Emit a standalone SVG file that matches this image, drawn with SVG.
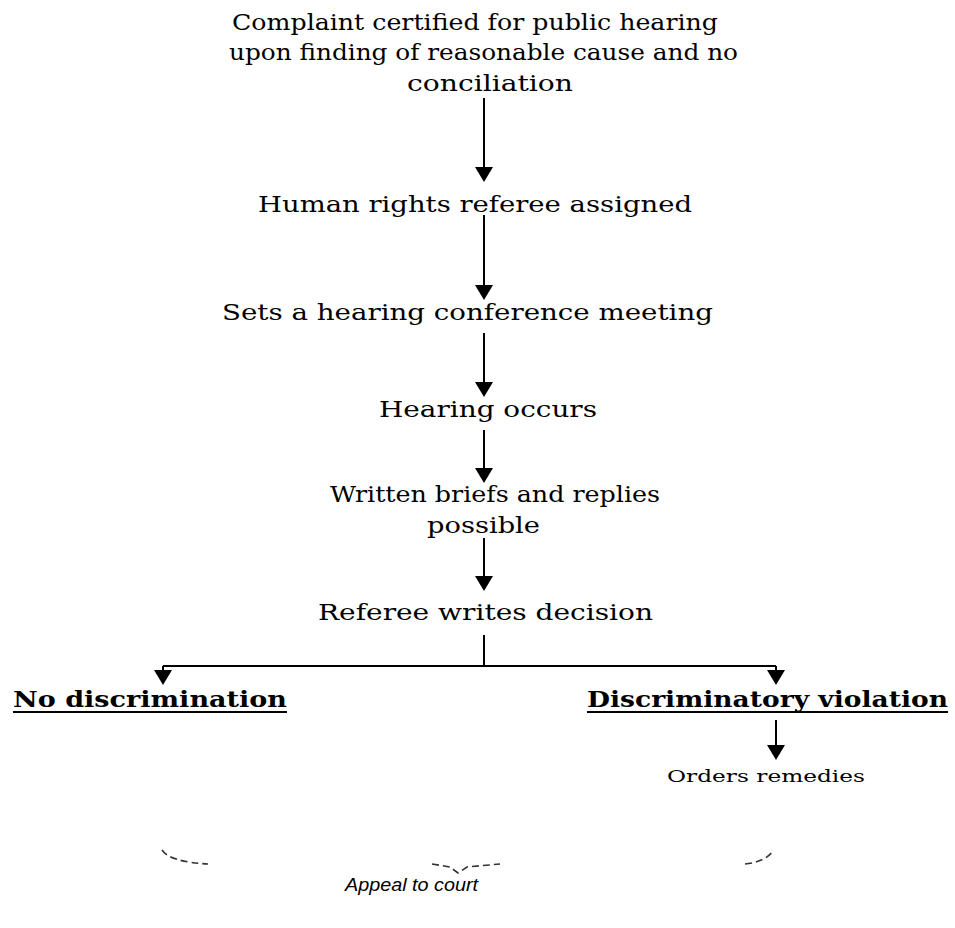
<svg xmlns="http://www.w3.org/2000/svg" width="955" height="928" viewBox="0 0 955 928">
  <style>
    .lbl { font-family: "DejaVu Serif", "Liberation Serif", serif; font-size: 22px; fill: #000; }
    .bold { font-family: "DejaVu Serif", "Liberation Serif", serif; font-size: 23px; font-weight: bold; fill: #000; }
    .small { font-family: "DejaVu Serif", "Liberation Serif", serif; font-size: 17px; fill: #000; }
    .ital { font-family: "Liberation Sans", "DejaVu Sans", sans-serif; font-size: 19px; font-style: italic; fill: #000; }
    .wire { stroke: #000; stroke-width: 2; fill: none; }
    .head { fill: #000; }
    .faint { stroke: #333; stroke-width: 1.6; fill: none; stroke-dasharray: 7 4; }
    .rule { stroke: #000; stroke-width: 2; }
  </style>
  <defs>
    <!-- downward arrowhead, tip at origin -->
    <polygon id="tip" points="-9,-15 9,-15 0,0"/>
  </defs>

  <!-- connectors -->
  <g id="connectors">
    <line class="wire" x1="484" y1="98" x2="484" y2="168"/>
    <use href="#tip" class="head" x="484" y="182"/>
    <line class="wire" x1="484" y1="215" x2="484" y2="287"/>
    <use href="#tip" class="head" x="484" y="300"/>
    <line class="wire" x1="484" y1="333" x2="484" y2="383"/>
    <use href="#tip" class="head" x="484" y="397"/>
    <line class="wire" x1="484" y1="430" x2="484" y2="469"/>
    <use href="#tip" class="head" x="484" y="483"/>
    <line class="wire" x1="484" y1="538" x2="484" y2="577"/>
    <use href="#tip" class="head" x="484" y="591"/>
    <path class="wire" d="M484,635 V666 M163,666 H776 M163,666 V672 M776,666 V672"/>
    <use href="#tip" class="head" x="163" y="685"/>
    <use href="#tip" class="head" x="776" y="685"/>
    <line class="wire" x1="776" y1="720" x2="776" y2="746"/>
    <use href="#tip" class="head" x="776" y="760"/>
    <!-- faint dashed appeal routes -->
    <path class="faint" d="M162,850 Q170,862 208,864"/>
    <path class="faint" d="M432,864 L450,867 L458,873 L467,867 L500,864"/>
    <path class="faint" d="M745,864 Q765,862 773,851"/>
  </g>

  <g id="complaint">
    <text class="lbl" x="232" y="30" textLength="486" lengthAdjust="spacingAndGlyphs">Complaint certified for public hearing</text>
    <text class="lbl" x="229" y="60" textLength="509" lengthAdjust="spacingAndGlyphs">upon finding of reasonable cause and no</text>
    <text class="lbl" x="407" y="91" textLength="166" lengthAdjust="spacingAndGlyphs">conciliation</text>
  </g>
  <g id="referee-assigned">
    <text class="lbl" x="258" y="212" textLength="434" lengthAdjust="spacingAndGlyphs">Human rights referee assigned</text>
  </g>
  <g id="conference">
    <text class="lbl" x="222" y="320" textLength="491" lengthAdjust="spacingAndGlyphs">Sets a hearing conference meeting</text>
  </g>
  <g id="hearing">
    <text class="lbl" x="379" y="417" textLength="218" lengthAdjust="spacingAndGlyphs">Hearing occurs</text>
  </g>
  <g id="briefs">
    <text class="lbl" x="330" y="502" textLength="330" lengthAdjust="spacingAndGlyphs">Written briefs and replies</text>
    <text class="lbl" x="427" y="533" textLength="113" lengthAdjust="spacingAndGlyphs">possible</text>
  </g>
  <g id="decision">
    <text class="lbl" x="318" y="620" textLength="335" lengthAdjust="spacingAndGlyphs">Referee writes decision</text>
  </g>
  <g id="no-discrimination">
    <text class="bold" x="13" y="707" textLength="274" lengthAdjust="spacingAndGlyphs">No discrimination</text>
    <line class="rule" x1="13" y1="712" x2="287" y2="712"/>
  </g>
  <g id="violation">
    <text class="bold" x="587" y="707" textLength="361" lengthAdjust="spacingAndGlyphs">Discriminatory violation</text>
    <line class="rule" x1="587" y1="712" x2="948" y2="712"/>
  </g>
  <g id="remedies">
    <text class="small" x="667" y="782" textLength="198" lengthAdjust="spacingAndGlyphs">Orders remedies</text>
  </g>
  <g id="appeal">
    <text class="ital" x="345" y="891" textLength="133" lengthAdjust="spacingAndGlyphs">Appeal to court</text>
  </g>
</svg>
